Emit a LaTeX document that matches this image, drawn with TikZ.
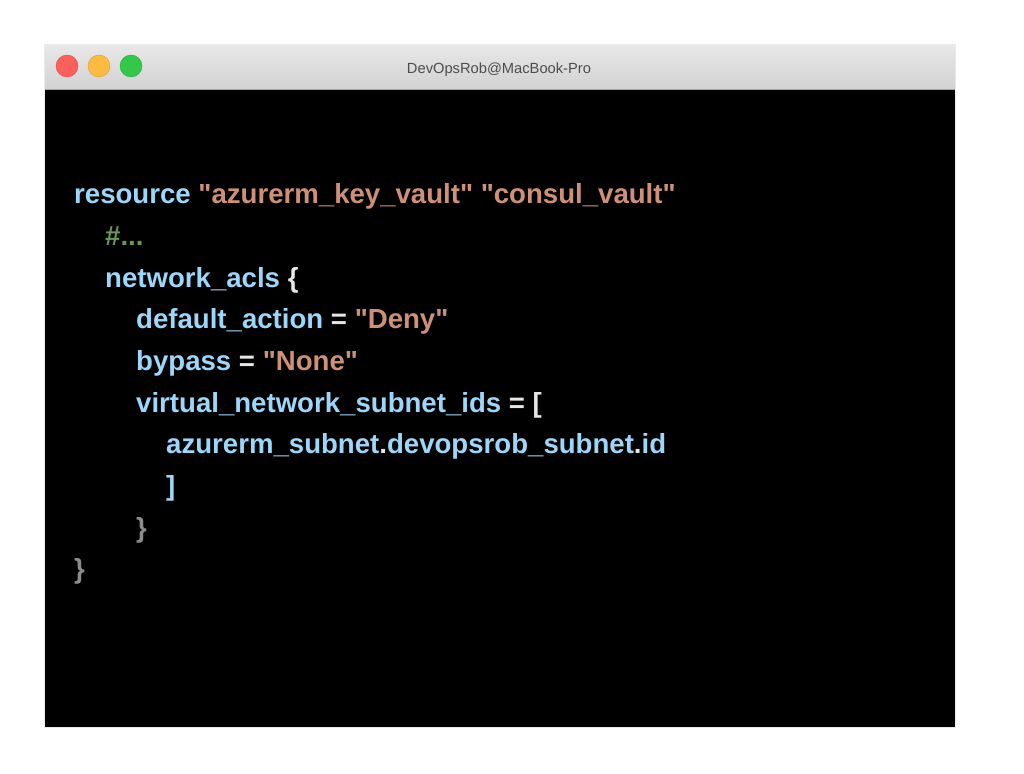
\documentclass[tikz,border=0pt]{standalone}
\usepackage{fontspec}
\setmainfont{Liberation Sans}
\newfontfamily\codefont{Liberation Sans}
\definecolor{kwblue}{HTML}{9CD6F8}
\definecolor{strorange}{HTML}{CE9178}
\definecolor{cmtgreen}{HTML}{6A9955}
\definecolor{bracegray}{HTML}{8C8C8C}
\definecolor{opwhite}{HTML}{E6E6E6}
\definecolor{titletop}{HTML}{E8E8E8}
\definecolor{titlebot}{HTML}{D2D2D2}
\definecolor{titletext}{HTML}{4D4D4D}
\definecolor{tlred}{HTML}{FC605C}
\definecolor{tlyellow}{HTML}{FDBC40}
\definecolor{tlgreen}{HTML}{34C84A}
\newcommand{\str}[1]{\textcolor{strorange}{#1}}
\newcommand{\op}[1]{\textcolor{opwhite}{#1}}
\begin{document}
\begin{tikzpicture}[x=1pt,y=-1pt,
  code/.style={anchor=base west, inner sep=0pt, text=kwblue,
    font=\codefont\bfseries\fontsize{27.6}{27.6}\selectfont},
  light/.style={circle, minimum width=21pt, minimum height=22pt, inner sep=0pt}]
	\useasboundingbox (0,0) rectangle (1024,773);
	\fill[white] (0,0) rectangle (1024,773);
	% window
	\fill[black!8] (44,44) rectangle (956,728);
	\fill[black] (45,89) rectangle (955,727);
	\shade[top color=titletop, bottom color=titlebot] (45,89) {[rounded corners=4pt] -- (45,45) -- (955,45)} -- (955,89) -- cycle;
	\draw[black!35] (45,89) -- (955,89);
	\node[light, fill=tlred, draw=tlred!85!black] (red) at (67,66) {};
	\node[light, fill=tlyellow, draw=tlyellow!85!black] (yellow) at (99,66) {};
	\node[light, fill=tlgreen, draw=tlgreen!85!black] (green) at (131,66) {};
	\node[anchor=base, inner sep=0pt, text=titletext, font=\fontsize{14.7}{14.7}\selectfont] (title) at (499,74) {DevOpsRob@MacBook-Pro};
	% code lines
	\node[code] (l1) at (74,203) {resource \str{"azurerm\_key\_vault" "consul\_vault"}};
	\node[code] (l2) at (105,245) {\textcolor{cmtgreen}{\#...}};
	\node[code] (l3) at (105,287) {network\_acls \op{\{}};
	\node[code] (l4) at (136,328) {default\_action \op{=} \str{"Deny"}};
	\node[code] (l5) at (136,370) {bypass \op{=} \str{"None"}};
	\node[code] (l6) at (136,412) {virtual\_network\_subnet\_ids \op{= [}};
	\node[code] (l7) at (166,453) {azurerm\_subnet\op{.}devopsrob\_subnet\op{.}id};
	\node[code] (l8) at (166,495) {]};
	\node[code, text=bracegray] (l9) at (136,537) {\}};
	\node[code, text=bracegray] (l10) at (74,578) {\}};
\end{tikzpicture}
\end{document}
